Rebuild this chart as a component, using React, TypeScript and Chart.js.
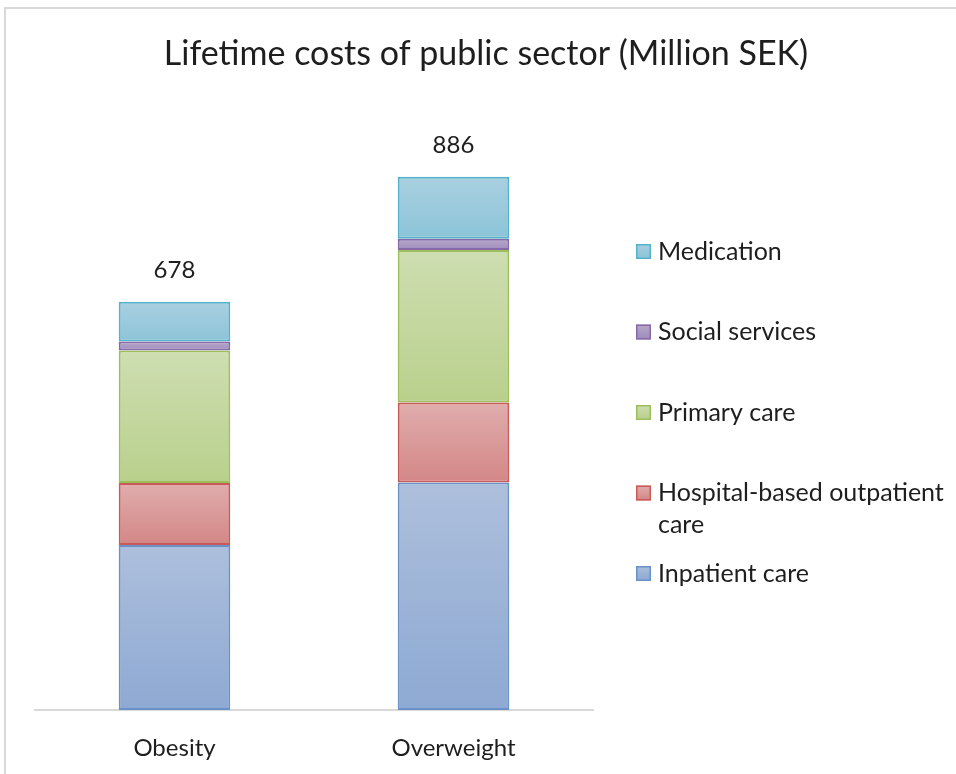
import React, { useEffect, useRef } from "react";
import { Chart, registerables } from "chart.js";

Chart.register(...registerables);

// ---- data ----
const categories = ["Obesity", "Overweight"];
const seriesNames = [
  "Inpatient care",
  "Hospital-based outpatient care",
  "Primary care",
  "Social services",
  "Medication",
];
const inpatientCare = [274, 378];
const outpatientCare = [103, 133];
const primaryCare = [220, 253];
const socialServices = [15, 19];
const medication = [66, 103];
const totalLabels = ["678", "886"];
const titleText = "Lifetime costs of public sector (Million SEK)";

const seriesValues = [inpatientCare, outpatientCare, primaryCare, socialServices, medication];

// ---- styles ----
const segStyles = [
  { top: "#adbfdc", bottom: "#8ea9d3", border: "#6a92c8" },
  { top: "#e0adad", bottom: "#d38786", border: "#c95a57" },
  { top: "#cedeb1", bottom: "#b9d08c", border: "#9cbf5c" },
  { top: "#b7a9ca", bottom: "#9f8bbd", border: "#8569a9" },
  { top: "#a9d0e0", bottom: "#8cc4d8", border: "#55b1cc" },
];

const FONT = "Lato, 'Open Sans', sans-serif";
const TEXT = "#1e1e1e";

const makeBg = (ds: number) => (ctx: any) => {
  const st = segStyles[ds];
  const chart = ctx.chart;
  if (!chart.chartArea || ctx.type !== "data") return st.bottom;
  const i = ctx.dataIndex;
  let base = 0;
  for (let k = 0; k < ds; k++) base += seriesValues[k][i];
  const y = chart.scales.y;
  const yTop = y.getPixelForValue(base + seriesValues[ds][i]);
  const yBot = y.getPixelForValue(base);
  if (!isFinite(yTop) || !isFinite(yBot) || yTop === yBot) return st.bottom;
  const g = chart.ctx.createLinearGradient(0, yTop, 0, yBot);
  g.addColorStop(0, st.top);
  g.addColorStop(1, st.bottom);
  return g;
};

const decorPlugin = {
  id: "decor",
  beforeDraw(chart: any) {
    const c = chart.ctx;
    c.save();
    c.fillStyle = "#ffffff";
    c.fillRect(0, 0, chart.width, chart.height);
    c.strokeStyle = "#d9d9d9";
    c.lineWidth = 2;
    c.beginPath();
    c.moveTo(5, chart.height);
    c.lineTo(5, 8);
    c.lineTo(chart.width, 8);
    c.stroke();
    c.restore();
  },
  afterDraw(chart: any) {
    const c = chart.ctx;
    c.save();
    // title
    c.fillStyle = TEXT;
    c.font = `34px ${FONT}`;
    c.textAlign = "center";
    c.textBaseline = "alphabetic";
    c.fillText(titleText, 486, 65);

    // totals above bars
    c.font = `24px ${FONT}`;
    const xs = chart.scales.x;
    const ys = chart.scales.y;
    categories.forEach((_, i) => {
      let sum = 0;
      seriesValues.forEach((arr) => (sum += arr[i]));
      const px = xs.getPixelForValue(i);
      const py = ys.getPixelForValue(sum);
      c.fillText(totalLabels[i], px, py - 24);
    });

    // legend (reversed order)
    c.textAlign = "left";
    c.font = `25px ${FONT}`;
    const boxX = 636;
    const textX = 658;
    const maxW = chart.width - textX - 4;
    const order = chart.data.datasets.map((_: any, k: number) => k).reverse();
    order.forEach((k: number, idx: number) => {
      const ds = chart.data.datasets[k];
      const cy = 251 + idx * 80.5;
      const st = segStyles[k];
      const g = c.createLinearGradient(0, cy - 7, 0, cy + 7);
      g.addColorStop(0, st.top);
      g.addColorStop(1, st.bottom);
      c.fillStyle = g;
      c.fillRect(boxX, cy - 7, 15, 15);
      c.strokeStyle = st.border;
      c.lineWidth = 1.5;
      c.strokeRect(boxX + 0.75, cy - 6.25, 13.5, 13.5);
      // wrap label
      const words = String(ds.label).split(" ");
      const lines: string[] = [];
      let cur = "";
      words.forEach((w) => {
        const t = cur ? cur + " " + w : w;
        if (c.measureText(t).width > maxW && cur) {
          lines.push(cur);
          cur = w;
        } else cur = t;
      });
      if (cur) lines.push(cur);
      c.fillStyle = TEXT;
      lines.forEach((ln, li) => c.fillText(ln, textX, cy + 8.5 + li * 32));
    });
    c.restore();
  },
};

export default function App() {
  const ref = useRef<HTMLCanvasElement | null>(null);
  useEffect(() => {
    if (!ref.current) return;
    const chart = new Chart(ref.current, {
      type: "bar",
      data: {
        labels: categories,
        datasets: seriesNames.map((name, k) => ({
          label: name,
          data: seriesValues[k],
          backgroundColor: makeBg(k),
          borderColor: segStyles[k].border,
          borderWidth: 2,
          borderSkipped: false,
          categoryPercentage: 1,
          barPercentage: 0.4,
        })),
      },
      options: {
        responsive: false,
        animation: false,
        devicePixelRatio: 1,
        layout: { padding: { left: 35, right: 363, top: 108, bottom: 0 } },
        plugins: {
          legend: { display: false },
          title: { display: false },
          tooltip: { enabled: false },
        },
        scales: {
          x: {
            stacked: true,
            grid: { display: false, drawTicks: false },
            border: { display: true, color: "#d9d9d9", width: 2 },
            ticks: {
              color: TEXT,
              font: { family: FONT, size: 24 },
              padding: 24,
            },
            afterFit: (scale: any) => {
              scale.height = 64;
            },
          },
          y: {
            stacked: true,
            display: false,
            min: 0,
            max: 1000,
          },
        },
      },
      plugins: [decorPlugin],
    });
    return () => chart.destroy();
  }, []);
  return (
    <div style={{ position: "fixed", left: 0, top: 0, width: 956, height: 774, background: "#fff" }}>
      <canvas ref={ref} width={956} height={774} style={{ display: "block" }} />
    </div>
  );
}
